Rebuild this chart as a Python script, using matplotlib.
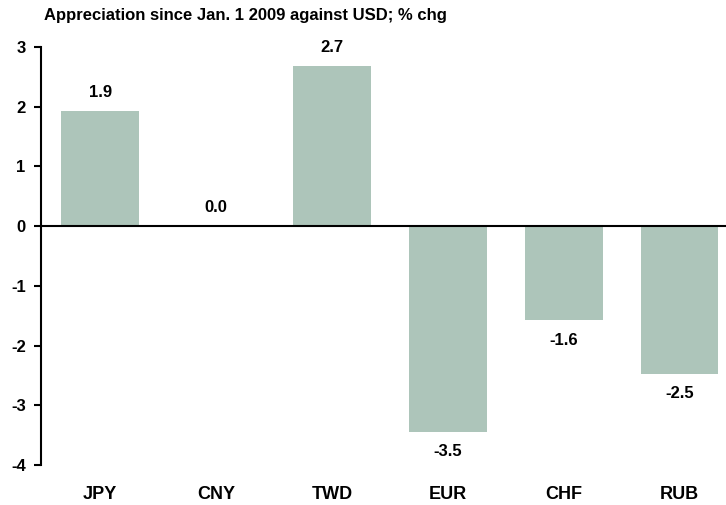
import matplotlib.pyplot as plt

plt.rcParams["font.family"] = ["Liberation Sans", "DejaVu Sans"]
plt.rcParams["axes.unicode_minus"] = False

moedas = ["JPY", "CNY", "TWD", "EUR", "CHF", "RUB"]
valores = [1.93, 0.0, 2.68, -3.44, -1.58, -2.47]
rotulos = ["1.9", "0.0", "2.7", "-3.5", "-1.6", "-2.5"]

fig = plt.figure(figsize=(7.26, 5.05), dpi=100)
ax = fig.add_axes([0.0565, 0.0792, 0.9435, 0.8277])

x = range(len(moedas))
ax.bar(x, valores, width=0.67, color="#adc5ba")
ax.axhline(0, color="black", linewidth=1.5)

for i, (v, r) in enumerate(zip(valores, rotulos)):
    if v >= 0:
        ax.annotate(r, (i, v), xytext=(0, 8), textcoords="offset points",
                    ha="center", va="bottom", fontsize=12, fontweight="bold")
    else:
        ax.annotate(r, (i, v), xytext=(0, -9), textcoords="offset points",
                    ha="center", va="top", fontsize=12, fontweight="bold")

ax.set_xlim(-0.51, 5.4)
ax.set_ylim(-4, 3)
ax.set_yticks(range(-4, 4))
ax.set_xticks(list(x))
ax.set_xticklabels(moedas, fontsize=13, fontweight="bold")
for t in ax.get_yticklabels():
    t.set_fontsize(12)
    t.set_fontweight("bold")
ax.tick_params(axis="x", length=0, pad=15)
ax.tick_params(axis="y", length=5, width=1.5, pad=6)
for s in ("top", "right", "bottom"):
    ax.spines[s].set_visible(False)
ax.spines["left"].set_linewidth(1.5)

fig.text(0.061, 0.97, "Appreciation since Jan. 1 2009 against USD; % chg",
         fontsize=12, fontweight="bold", ha="left", va="center")

fig.savefig("out.png", dpi=100)
